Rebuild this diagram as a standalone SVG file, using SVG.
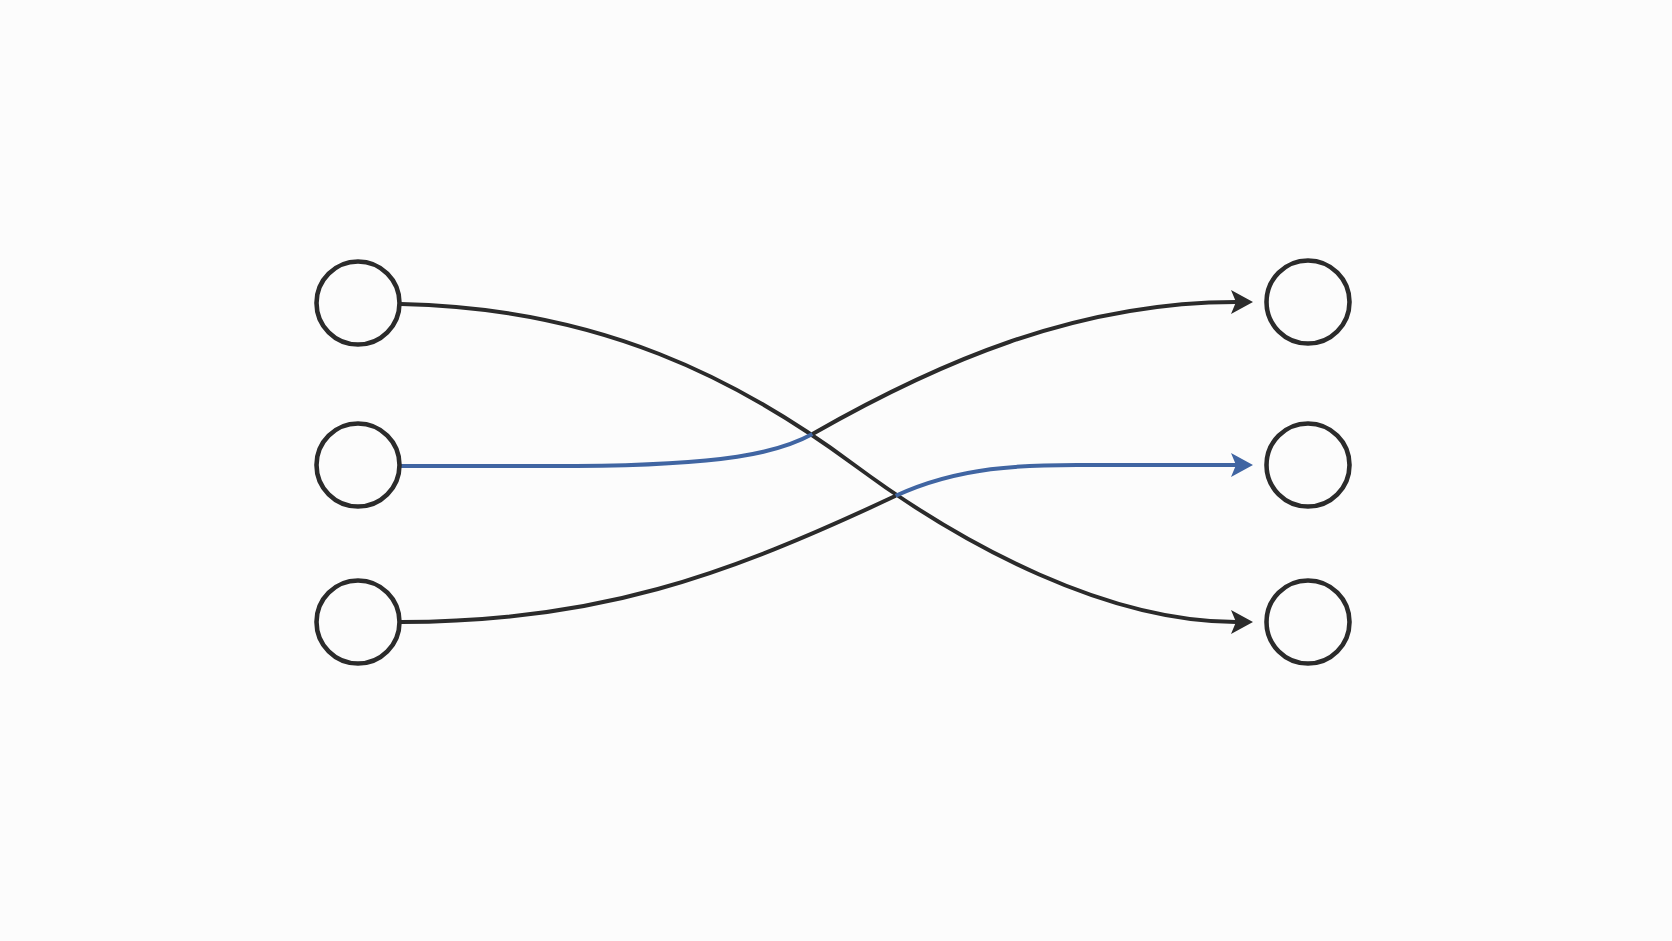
<svg xmlns="http://www.w3.org/2000/svg" width="1672" height="941" viewBox="0 0 1672 941">
  <defs>
    <style>
      .node { fill: none; stroke: #2b2b2b; stroke-width: 4.6; }
      .edge { fill: none; stroke-width: 4; stroke-linecap: butt; }
      .dark { stroke: #2b2b2b; }
      .blue { stroke: #4065a2; }
    </style>
    <marker id="arrDark" viewBox="0 0 22 26" refX="5" refY="13" markerWidth="22" markerHeight="26" markerUnits="userSpaceOnUse" orient="auto">
      <path d="M0,1 L22,13 L0,25 L5,13 Z" fill="#2b2b2b"/>
    </marker>
    <marker id="arrBlue" viewBox="0 0 22 26" refX="5" refY="13" markerWidth="22" markerHeight="26" markerUnits="userSpaceOnUse" orient="auto">
      <path d="M0,1 L22,13 L0,25 L5,13 Z" fill="#4065a2"/>
    </marker>
  </defs>
  <rect width="1672" height="941" fill="#fcfcfc"/>
  <g id="connectors">
    <path class="edge dark" d="M401,304 C600,308 740,380 853,464 S1109,622 1236,622" marker-end="url(#arrDark)"/>
    <path class="edge blue" d="M401,466 L576,466 C725,465 778,453 812.5,434"/>
    <path class="edge dark" d="M812.5,434 C935,364 1075,302 1236,302" marker-end="url(#arrDark)"/>
    <path class="edge dark" d="M401,622 C597,622 725,576 895.7,495.8"/>
    <path class="edge blue" d="M895.7,495.8 C960,466 1024,465 1077,465 L1236,465" marker-end="url(#arrBlue)"/>
  </g>
  <g id="node-l1"><circle class="node" cx="358" cy="303" r="41.5"/></g>
  <g id="node-l2"><circle class="node" cx="358" cy="465" r="41.5"/></g>
  <g id="node-l3"><circle class="node" cx="358" cy="622" r="41.5"/></g>
  <g id="node-r1"><circle class="node" cx="1308" cy="302" r="41.5"/></g>
  <g id="node-r2"><circle class="node" cx="1308" cy="465" r="41.5"/></g>
  <g id="node-r3"><circle class="node" cx="1308" cy="622" r="41.5"/></g>
</svg>
